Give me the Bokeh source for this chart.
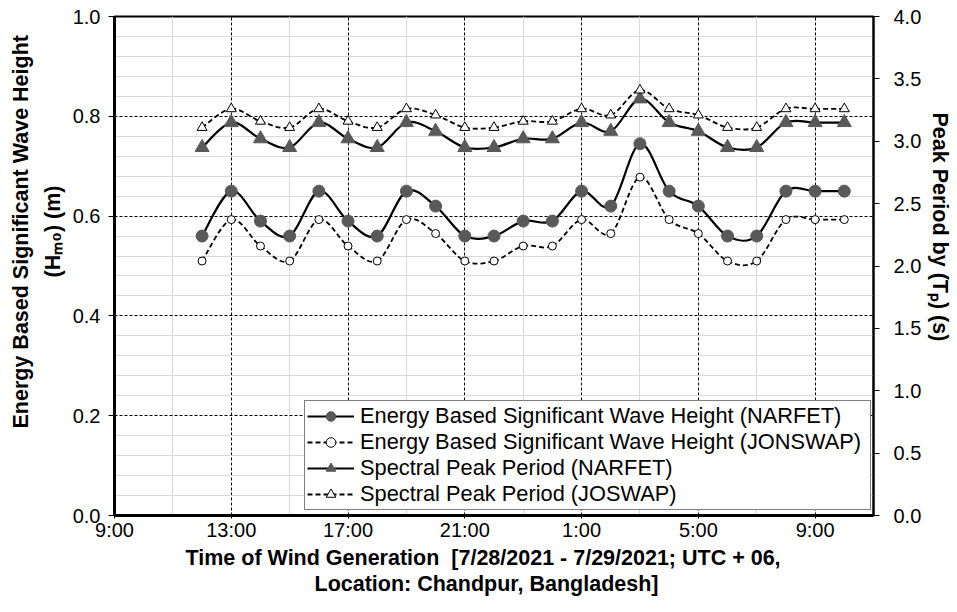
from bokeh.plotting import figure
from bokeh.models import (Range1d, LinearAxis, FixedTicker, Legend, LegendItem,
                          ColumnDataSource, NumeralTickFormatter, Title)
from bokeh.embed import file_html
from bokeh.resources import INLINE

# ---------------- data ----------------
times = ["12:00", "13:00", "14:00", "15:00", "16:00", "17:00", "18:00", "19:00", "20:00",
         "21:00", "22:00", "23:00", "0:00", "1:00", "2:00", "3:00", "4:00", "5:00", "6:00",
         "7:00", "8:00", "9:00", "10:00"]
hm0_narfet = [0.56, 0.65, 0.59, 0.56, 0.65, 0.59, 0.56, 0.65, 0.62, 0.56, 0.56, 0.59,
              0.59, 0.65, 0.62, 0.745, 0.65, 0.62, 0.56, 0.56, 0.65, 0.65, 0.65]
hm0_jonswap = [0.51, 0.593, 0.54, 0.51, 0.593, 0.54, 0.51, 0.593, 0.565, 0.51, 0.51, 0.54,
               0.54, 0.593, 0.565, 0.678, 0.593, 0.565, 0.51, 0.51, 0.593, 0.593, 0.593]
tp_narfet = [2.95, 3.15, 3.02, 2.95, 3.15, 3.02, 2.95, 3.15, 3.08, 2.95, 2.95, 3.02,
             3.02, 3.15, 3.08, 3.34, 3.15, 3.08, 2.95, 2.95, 3.15, 3.15, 3.15]
tp_joswap = [3.11, 3.26, 3.16, 3.11, 3.26, 3.16, 3.11, 3.26, 3.21, 3.11, 3.11, 3.16,
             3.16, 3.26, 3.21, 3.41, 3.26, 3.21, 3.11, 3.11, 3.26, 3.26, 3.26]
x_tick_hours = [9, 13, 17, 21, 25, 29, 33]
x_tick_labels = ["9:00", "13:00", "17:00", "21:00", "1:00", "5:00", "9:00"]
left_ticks = [0.0, 0.2, 0.4, 0.6, 0.8, 1.0]
right_ticks = [0.0, 0.5, 1.0, 1.5, 2.0, 2.5, 3.0, 3.5, 4.0]
legend_labels = ["Energy Based Significant Wave Height (NARFET)",
                 "Energy Based Significant Wave Height (JONSWAP)",
                 "Spectral Peak Period (NARFET)",
                 "Spectral Peak Period (JOSWAP)"]
left_title = ["Energy Based Significant Wave Height", "(H\u2098\u2080) (m)"]
right_title = "Peak Period by (T\u209a) (s)"
bottom_title = ["Time of Wind Generation\u00a0 [7/28/2021 - 7/29/2021; UTC + 06,",
                "Location: Chandpur, Bangladesh]"]


def to_hours(t):
    h, m = t.split(":")
    h = int(h) + int(m) / 60.0
    return h + 24 if h < 12 else h


hours = [to_hours(t) for t in times]

FONT = "Liberation Sans"
GRAY = "#595959"

p = figure(frame_width=759, frame_height=499,
           x_range=Range1d(9, 35), y_range=Range1d(0, 1),
           output_backend="svg", toolbar_location=None,
           min_border_left=114, min_border_right=84, min_border_top=16, min_border_bottom=97,
           background_fill_color="white", border_fill_color="white")
p.extra_y_ranges = {"right": Range1d(0, 4)}

p.outline_line_color = "black"
p.outline_line_width = 2

# grids
minor_y = [round(0.04 * k, 2) for k in range(1, 25) if k % 5 != 0]
p.ygrid.ticker = FixedTicker(ticks=left_ticks[1:-1], minor_ticks=minor_y)
p.xgrid.ticker = FixedTicker(ticks=x_tick_hours[1:], minor_ticks=[11, 15, 19, 23, 27, 31])
for g in (p.xgrid, p.ygrid):
    g.grid_line_color = "black"
    g.grid_line_width = 1
    g.grid_line_dash = "3 2"
    g.minor_grid_line_color = "#d9d9d9"
    g.minor_grid_line_width = 1


def style_axis(ax, lw):
    ax.axis_line_color = "black"
    ax.axis_line_width = lw
    ax.major_tick_line_color = "black"
    ax.major_tick_in = 0
    ax.minor_tick_line_color = None
    ax.major_label_text_font = FONT
    ax.major_label_text_font_size = "20px"
    ax.major_label_text_color = "black"
    ax.axis_label = None


p.yaxis.ticker = FixedTicker(ticks=left_ticks)
p.yaxis.formatter = NumeralTickFormatter(format="0.0")
style_axis(p.yaxis[0], 3)
p.yaxis.major_tick_out = 6
p.yaxis.major_label_standoff = 8

p.xaxis.ticker = FixedTicker(ticks=x_tick_hours)
p.xaxis.major_label_overrides = {h: l for h, l in zip(x_tick_hours, x_tick_labels)}
style_axis(p.xaxis[0], 3)
p.xaxis.major_tick_out = 3
p.xaxis.major_label_standoff = 0

ry = LinearAxis(y_range_name="right", ticker=FixedTicker(ticks=right_ticks),
                formatter=NumeralTickFormatter(format="0.0"))
style_axis(ry, 2)
ry.major_tick_out = 6
ry.major_label_standoff = 14
p.add_layout(ry, "right")


# smoothed (Excel-style) curves drawn as bezier segments through the data points
def bezier_source(xs, ys):
    n = len(xs)
    d = {k: [] for k in ("x0", "y0", "x1", "y1", "cx0", "cy0", "cx1", "cy1")}
    for i in range(n - 1):
        a = max(i - 1, 0)
        b = min(i + 2, n - 1)
        d["x0"].append(xs[i]); d["y0"].append(ys[i])
        d["x1"].append(xs[i + 1]); d["y1"].append(ys[i + 1])
        d["cx0"].append(xs[i] + (xs[i + 1] - xs[a]) / 6.0)
        d["cy0"].append(ys[i] + (ys[i + 1] - ys[a]) / 6.0)
        d["cx1"].append(xs[i + 1] - (xs[b] - xs[i]) / 6.0)
        d["cy1"].append(ys[i + 1] - (ys[b] - ys[i]) / 6.0)
    return ColumnDataSource(d)


series = [
    (hm0_narfet, "default", "solid", "circle", 12, GRAY, GRAY, 2.2),
    (hm0_jonswap, "default", "5 3", "circle", 8, "white", "black", 1.8),
    (tp_narfet, "right", "solid", "triangle", 14, GRAY, GRAY, 2.2),
    (tp_joswap, "right", "5 3", "triangle", 10, "white", "black", 1.8),
]

items = []
for (ys, rng, dash, marker, size, fill, mline, lw), lab in zip(series, legend_labels):
    p.bezier(x0="x0", y0="y0", x1="x1", y1="y1", cx0="cx0", cy0="cy0", cx1="cx1", cy1="cy1",
             source=bezier_source(hours, ys), line_color="black", line_width=lw,
             line_dash=dash, y_range_name=rng)
    proxy = p.line(hours, ys, line_color="black", line_width=lw, line_dash=dash,
                   y_range_name=rng, visible=False)
    sc = p.scatter(hours, ys, marker=marker, size=size, fill_color=fill,
                   line_color=mline, line_width=1, y_range_name=rng)
    items.append(LegendItem(label=lab, renderers=[proxy, sc]))

legend = Legend(items=items, location=(190, 5), label_text_font=FONT,
                label_text_font_size="21.8px", label_text_color="black",
                glyph_width=47, glyph_height=24, label_height=24, label_width=508,
                label_standoff=6, padding=2, spacing=0, margin=0,
                border_line_color="black", border_line_width=1,
                background_fill_color="white", background_fill_alpha=1)
p.add_layout(legend)


def title(text, side, offset, standoff):
    p.add_layout(Title(text=text, align="left", offset=offset, standoff=standoff,
                       text_font=FONT, text_font_size="21.5px", text_font_style="bold",
                       text_color="black"), side)


# left: second line nearest the axis, then first line
title(left_title[1], "left", 238, 10)
title(left_title[0], "left", 87, 2)
# right
title(right_title, "right", 96, 6)
# bottom
title(bottom_title[0], "below", 71, 0)
title(bottom_title[1], "below", 200, 0)

open("out.html", "w").write(file_html(p, INLINE))
